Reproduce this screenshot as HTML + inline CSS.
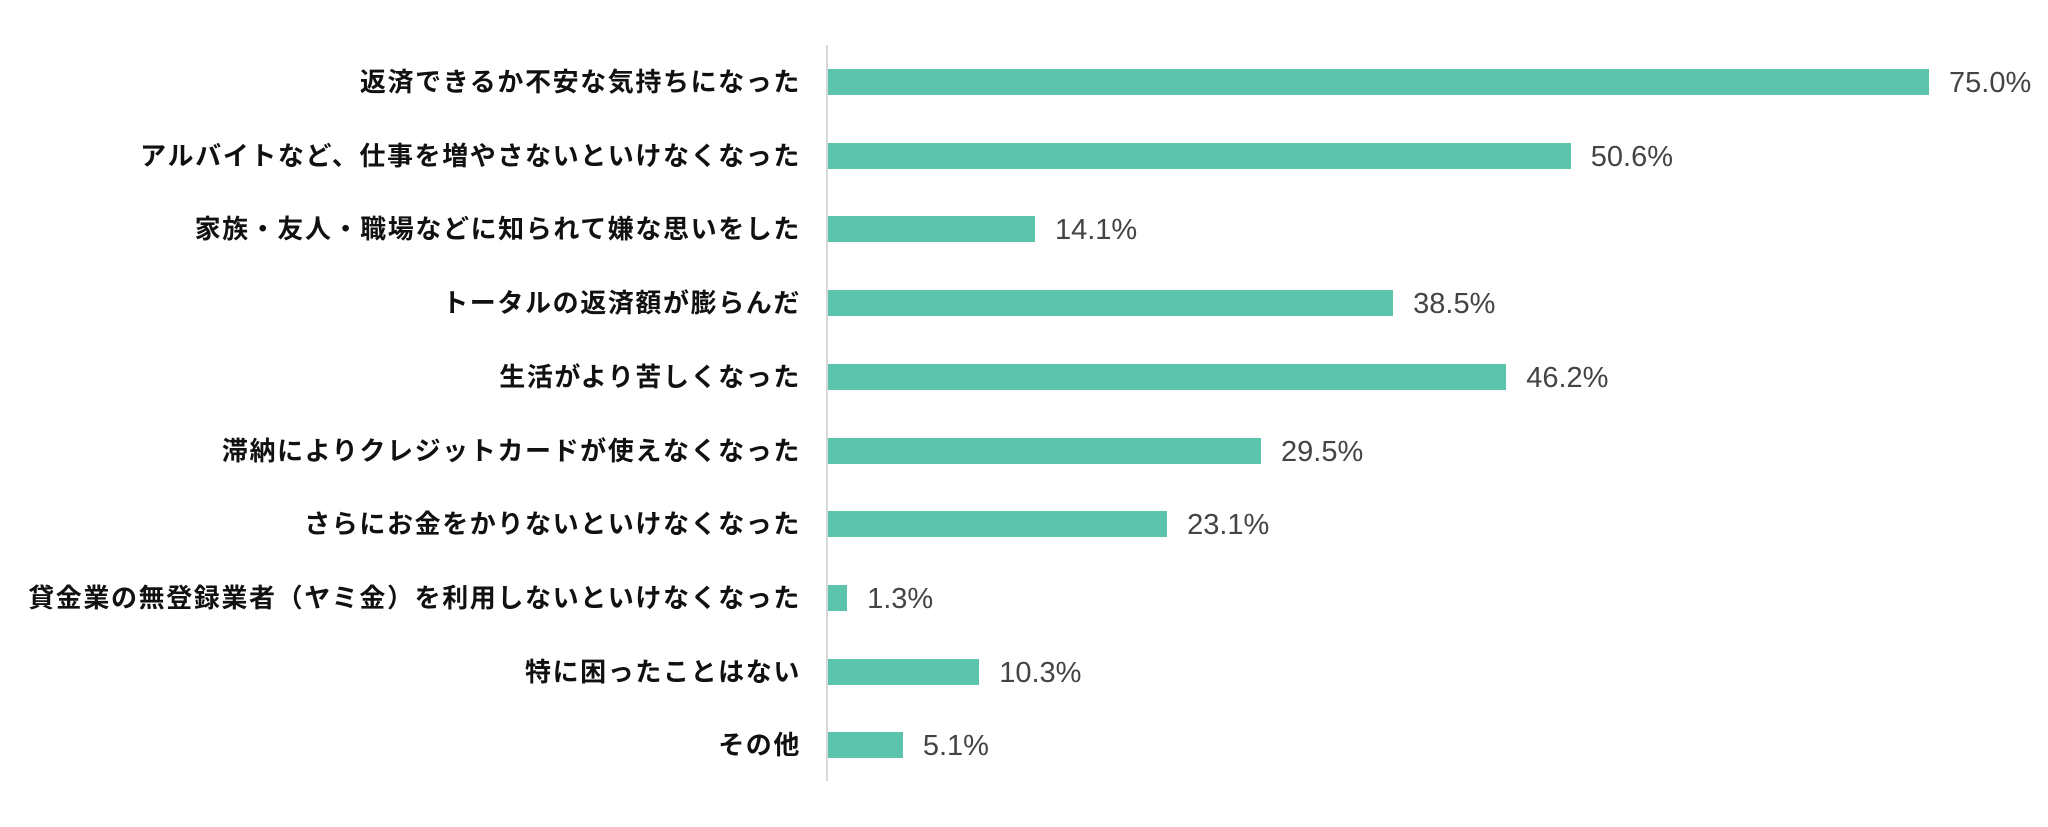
<!DOCTYPE html>
<html><head><meta charset="utf-8"><style>
body{margin:0;width:2048px;height:827px;background:#fff;position:relative;overflow:hidden;font-family:"Liberation Sans","Noto Sans CJK JP",sans-serif}
.ax{position:absolute;left:826px;top:45px;width:2px;height:736px;background:#d9d9d9}
.bar{position:absolute;left:828px;height:26px;background:#5cc3ad}
.lab{position:absolute;right:1247px;font-size:26px;font-weight:bold;color:#111;letter-spacing:1.6px;white-space:nowrap;line-height:30px;font-family:"Noto Sans CJK JP",sans-serif}
.val{position:absolute;font-size:29px;color:#444;line-height:30px}
</style></head><body>
<div class="ax"></div>
<div id="c"></div>
<script>
var d=[["返済できるか不安な気持ちになった",75.0],["アルバイトなど、仕事を増やさないといけなくなった",50.6],["家族・友人・職場などに知られて嫌な思いをした",14.1],["トータルの返済額が膨らんだ",38.5],["生活がより苦しくなった",46.2],["滞納によりクレジットカードが使えなくなった",29.5],["さらにお金をかりないといけなくなった",23.1],["貸金業の無登録業者（ヤミ金）を利用しないといけなくなった",1.3],["特に困ったことはない",10.3],["その他",5.1]];
var h="";
d.forEach(function(r,i){var t=69+i*73.7,w=r[1]*14.68;
h+='<div class="bar" style="top:'+t+'px;width:'+w+'px"></div>';
h+='<div class="lab" style="top:'+(t-3)+'px">'+r[0]+'</div>';
h+='<div class="val" style="top:'+(t-1)+'px;left:'+(828+w+20)+'px">'+r[1].toFixed(1)+'%</div>';});
document.getElementById("c").innerHTML=h;
</script>
</body></html>
